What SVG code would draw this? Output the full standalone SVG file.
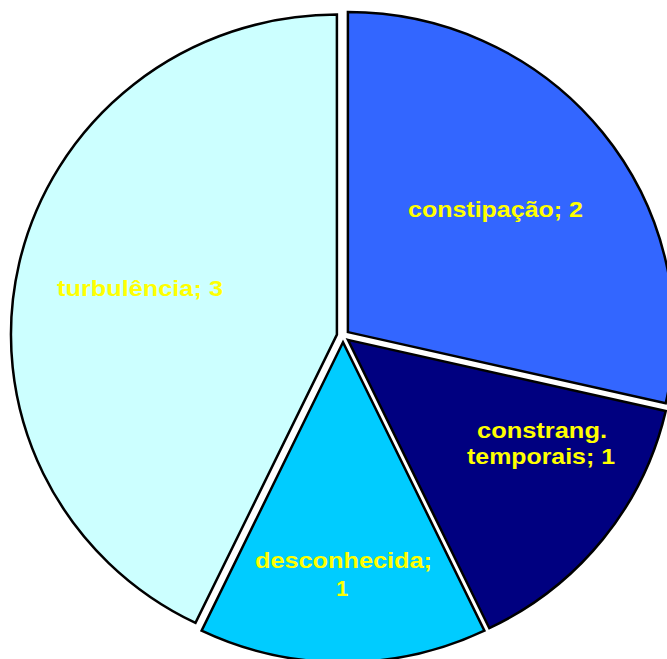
<svg xmlns="http://www.w3.org/2000/svg" width="667" height="659" viewBox="0 0 667 659">
<style>
.slice{stroke:#000;stroke-width:2.5;stroke-linejoin:miter}
.lbl{font-family:"Liberation Sans",Arial,sans-serif;font-weight:bold;font-size:22px;fill:#FFFF00;text-anchor:middle}
</style>
<rect width="667" height="659" fill="#fff"/>
<g id="turbulencia">
<path class="slice" fill="#CCFFFF" d="M336.9,334.6 L195.5,622.9 A326,320 0 0 1 336.9,14.6 Z"/>
<text class="lbl" x="140" y="296" textLength="166" lengthAdjust="spacingAndGlyphs">turbulência; 3</text>
</g>
<g id="constipacao">
<path class="slice" fill="#3366FF" d="M347.9,332.1 L347.9,12.1 A326,320 0 0 1 665.7,403.3 Z"/>
<text class="lbl" x="495.5" y="217" textLength="175" lengthAdjust="spacingAndGlyphs">constipação; 2</text>
</g>
<g id="constrang">
<path class="slice" fill="#000080" d="M347.9,339.9 L665.7,411.1 A326,320 0 0 1 489.3,628.2 Z"/>
<text class="lbl" x="542" y="438" textLength="130" lengthAdjust="spacingAndGlyphs">constrang.</text>
<text class="lbl" x="541" y="464" textLength="148" lengthAdjust="spacingAndGlyphs">temporais; 1</text>
</g>
<g id="desconhecida">
<path class="slice" fill="#00CCFF" d="M343,342.3 L484.4,630.6 A326,320 0 0 1 201.6,630.6 Z"/>
<text class="lbl" x="343.5" y="568" textLength="177" lengthAdjust="spacingAndGlyphs">desconhecida;</text>
<text class="lbl" x="342" y="596">1</text>
</g>
<g id="connectors"/>
</svg>
